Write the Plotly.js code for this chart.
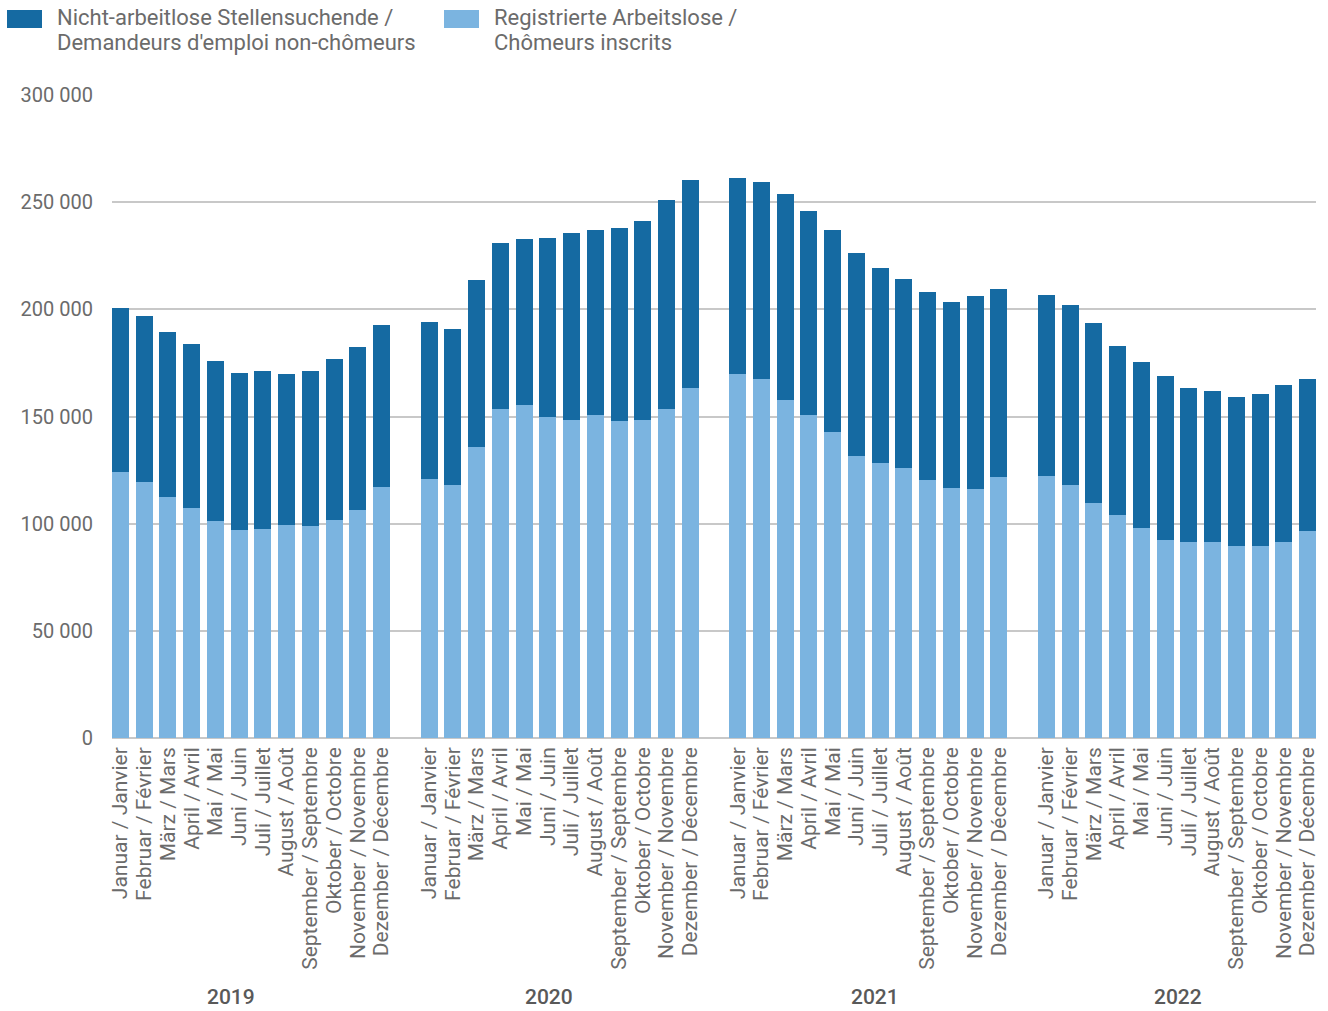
<!DOCTYPE html>
<html>
<head>
<meta charset="utf-8">
<script src="https://cdn.plot.ly/plotly-3.0.1.min.js"></script>
<style>html,body{margin:0;padding:0;background:#fff;}#chart{width:1328px;height:1011px;}</style>
</head>
<body>
<div id="chart"></div>
<script>
// ---- Data ----
const years = ["2019", "2020", "2021", "2022"];
const months = ["Januar / Janvier", "Februar / Février", "März / Mars", "April / Avril", "Mai / Mai",
  "Juni / Juin", "Juli / Juillet", "August / Août", "September / Septembre", "Oktober / Octobre",
  "November / Novembre", "Dezember / Décembre"];
const seriesDark = ["Nicht-arbeitlose Stellensuchende /", "Demandeurs d'emploi non-chômeurs"];
const seriesLight = ["Registrierte Arbeitslose /", "Chômeurs inscrits"];
// Registrierte Arbeitslose / Chômeurs inscrits (light, bottom)
const registered = [
  123900, 119300, 112300, 107100, 101100, 96900, 97400, 99200, 98700, 101500, 106200, 116900,
  120700, 117900, 135600, 153300, 155600, 150000, 148600, 150900, 148100, 148600, 153300, 163500,
  169600, 167700, 157900, 150900, 142600, 131400, 128100, 126200, 120200, 116500, 116000, 121600,
  122100, 117900, 109500, 103900, 97800, 92200, 91300, 91300, 89400, 89400, 91300, 96400
];
// Nicht-arbeitlose Stellensuchende / Demandeurs d'emploi non-chômeurs (dark, top)
const nonUnemployed = [
  76600, 77800, 77300, 76500, 75000, 73600, 74000, 70400, 72700, 75100, 76400, 76000,
  73600, 72700, 78300, 77800, 77400, 83400, 87200, 86300, 90000, 92700, 97800, 97000,
  91800, 91800, 96000, 95100, 94600, 95000, 91300, 88100, 88100, 87100, 90400, 88100,
  84800, 84300, 84300, 79200, 77800, 76500, 72200, 70400, 69900, 70900, 73200, 71300
];

// ---- Build positions (one empty slot between years) ----
const xs = [], labels = [];
years.forEach((y, yi) => months.forEach((m, mi) => { xs.push(yi * 13 + mi); labels.push(m); }));

const DARK = "#156aa2", LIGHT = "#7bb4e0", TXT = "#6b6b6b";
const W = 1328, H = 1011, L = 112, R = 12, T = 95, B = 273;
const pw = W - L - R, ph = H - T - B;
const px2x = p => (p - L) / pw;
const px2y = p => (H - B - p) / ph;

const traces = [
  {type: "bar", x: xs, y: registered, name: seriesLight.join(" "), marker: {color: LIGHT}, showlegend: false, hoverinfo: "y"},
  {type: "bar", x: xs, y: nonUnemployed, name: seriesDark.join(" "), marker: {color: DARK}, showlegend: false, hoverinfo: "y"}
];

const yearCenters = [231, 549, 875, 1178];
const annotations = [];
years.forEach((y, i) => annotations.push({
  text: y, xref: "paper", yref: "paper", x: px2x(yearCenters[i]), y: px2y(997),
  xanchor: "center", yanchor: "middle", showarrow: false,
  font: {family: "Roboto", size: 21, color: "#595959", weight: 500}
}));
const legFont = {family: "Roboto", size: 22, color: TXT};
[[seriesDark, 55], [seriesLight, 492]].forEach(([lines, px]) => {
  lines.forEach((t, li) => annotations.push({
    text: t, xref: "paper", yref: "paper", x: px2x(px), y: px2y(18 + li * 24.5),
    xanchor: "left", yanchor: "middle", showarrow: false, font: legFont
  }));
});

const shapes = [
  {type: "rect", xref: "paper", yref: "paper", x0: px2x(7), x1: px2x(42), y0: px2y(28), y1: px2y(10), fillcolor: DARK, line: {width: 0}},
  {type: "rect", xref: "paper", yref: "paper", x0: px2x(444), x1: px2x(479), y0: px2y(28), y1: px2y(10), fillcolor: LIGHT, line: {width: 0}}
];

const layout = {
  width: W, height: H,
  margin: {l: L, r: R, t: T, b: B, pad: 0},
  barmode: "stack", bargap: 0.284,
  separators: ", ",
  paper_bgcolor: "#fff", plot_bgcolor: "#fff",
  font: {family: "Roboto", color: TXT, size: 19},
  xaxis: {
    range: [-0.358, 50.358], tickmode: "array", tickvals: xs, ticktext: labels,
    tickangle: -90, showgrid: false, zeroline: false, showline: false, ticks: "",
    ticklabelstandoff: 4,
    tickfont: {family: "Roboto", size: 21, color: TXT}, fixedrange: true
  },
  yaxis: {
    range: [0, 300000], dtick: 50000, tickformat: ",d",
    gridcolor: "#c8c8c8", gridwidth: 2, zeroline: true, zerolinecolor: "#c8c8c8", zerolinewidth: 2,
    showline: false, ticks: "", ticklabelstandoff: 18,
    tickfont: {family: "Roboto", size: 20, color: TXT}, fixedrange: true
  },
  annotations: annotations,
  shapes: shapes
};

Plotly.newPlot("chart", traces, layout, {displayModeBar: false, staticPlot: true});
</script>
</body>
</html>
